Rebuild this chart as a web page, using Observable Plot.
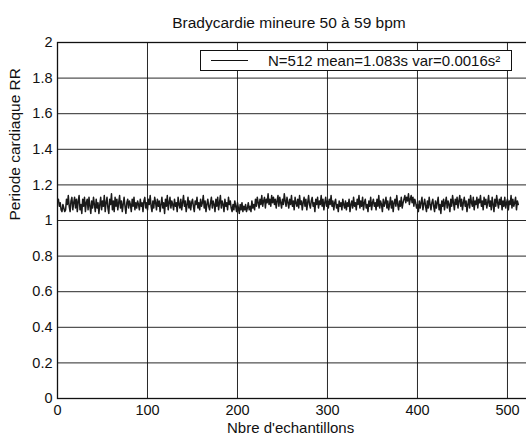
<!DOCTYPE html>
<html>
<head>
<meta charset="utf-8">
<script src="https://cdn.jsdelivr.net/npm/d3@7"></script>
<script src="https://cdn.jsdelivr.net/npm/@observablehq/plot@0.6"></script>
<style>
  body { margin: 0; background: #fff; font-family: "Liberation Sans", Arial, sans-serif; }
  #wrap { position: relative; width: 526px; height: 439px; overflow: hidden; }
  #title { position: absolute; left: 0; top: 14px; width: 526px; text-align: center; font-size: 15.5px; padding-left: 52px; box-sizing: border-box; color: #111; }
  #chart { position: absolute; left: 0; top: 20px; width: 540px; }
  #chart svg { max-width: none !important; }
  #legend { position: absolute; left: 200px; top: 50px; width: 312px; height: 21px; border: 1px solid #111; background: #fff; box-sizing: border-box; font-size: 15px; color: #111; }
  #legend .sample { position: absolute; left: 10px; top: 9px; width: 37px; border-top: 1px solid #111; }
  #legend .txt { position: absolute; left: 67px; top: 1px; white-space: nowrap; }
</style>
</head>
<body>
<div id="wrap">
  <div id="title"></div>
  <div id="chart"></div>
  <div id="legend"><div class="sample"></div><div class="txt"></div></div>
</div>
<script>
const title = "Bradycardie mineure 50 à 59 bpm";
const xLabel = "Nbre d'echantillons";
const yLabel = "Periode cardiaque RR";
const legendText = "N=512 mean=1.083s var=0.0016s²";
const xTicks = [0, 100, 200, 300, 400, 500];
const yTicks = [0, 0.2, 0.4, 0.6, 0.8, 1, 1.2, 1.4, 1.6, 1.8, 2];

// RR period values (s), 512 samples
const rr = [
1.12,1.08,1.10,1.06,1.05,1.09,1.07,1.05,1.06,1.12,1.09,1.14,1.08,1.05,1.11,1.13,
1.06,1.10,1.13,1.07,1.12,1.05,1.11,1.14,1.06,1.09,1.04,1.12,1.08,1.13,1.05,1.10,
1.12,1.06,1.13,1.08,1.04,1.11,1.07,1.13,1.09,1.05,1.12,1.07,1.10,1.04,1.09,1.13,
1.06,1.11,1.08,1.14,1.05,1.10,1.13,1.07,1.04,1.12,1.09,1.15,1.06,1.11,1.05,1.13,
1.08,1.12,1.06,1.10,1.14,1.07,1.11,1.05,1.09,1.13,1.08,1.04,1.10,1.12,1.07,1.11,
1.09,1.05,1.12,1.08,1.13,1.06,1.10,1.07,1.11,1.09,1.06,1.12,1.08,1.10,1.05,1.11,
1.13,1.07,1.10,1.06,1.12,1.09,1.14,1.08,1.05,1.11,1.07,1.13,1.10,1.06,1.12,1.08,
1.11,1.05,1.09,1.13,1.07,1.10,1.04,1.12,1.08,1.14,1.06,1.10,1.13,1.07,1.11,1.09,
1.06,1.12,1.08,1.10,1.05,1.13,1.09,1.07,1.12,1.06,1.10,1.14,1.08,1.11,1.05,1.09,
1.13,1.07,1.11,1.06,1.10,1.12,1.08,1.05,1.11,1.09,1.13,1.07,1.10,1.06,1.12,1.08,
1.10,1.14,1.07,1.11,1.05,1.09,1.12,1.08,1.06,1.10,1.13,1.07,1.11,1.09,1.05,1.12,
1.08,1.13,1.06,1.10,1.14,1.07,1.11,1.09,1.05,1.12,1.08,1.10,1.06,1.13,1.09,1.11,
1.07,1.05,1.09,1.06,1.11,1.08,1.05,1.10,1.07,1.04,1.09,1.06,1.10,1.05,1.08,1.06,
1.09,1.05,1.07,1.10,1.06,1.08,1.05,1.11,1.07,1.09,1.06,1.12,1.08,1.13,1.10,1.07,
1.12,1.09,1.14,1.08,1.11,1.13,1.07,1.12,1.10,1.15,1.09,1.12,1.08,1.14,1.10,1.13,
1.09,1.12,1.07,1.11,1.14,1.08,1.13,1.10,1.07,1.12,1.09,1.15,1.11,1.08,1.13,1.10,
1.07,1.12,1.09,1.14,1.08,1.11,1.06,1.13,1.10,1.08,1.12,1.07,1.14,1.09,1.11,1.06,
1.10,1.13,1.08,1.12,1.06,1.10,1.14,1.09,1.07,1.11,1.13,1.08,1.10,1.05,1.12,1.09,
1.13,1.07,1.11,1.09,1.14,1.08,1.12,1.06,1.10,1.13,1.08,1.11,1.07,1.12,1.09,1.14,
1.08,1.11,1.06,1.10,1.12,1.07,1.09,1.05,1.11,1.08,1.10,1.06,1.12,1.09,1.07,1.11,
1.06,1.10,1.08,1.12,1.05,1.09,1.11,1.07,1.13,1.08,1.10,1.06,1.12,1.09,1.14,1.07,
1.11,1.08,1.13,1.06,1.10,1.12,1.07,1.09,1.05,1.11,1.08,1.13,1.06,1.10,1.12,1.08,
1.10,1.06,1.12,1.08,1.14,1.07,1.11,1.09,1.05,1.12,1.08,1.10,1.13,1.07,1.11,1.06,
1.09,1.13,1.07,1.11,1.05,1.10,1.12,1.08,1.14,1.09,1.06,1.11,1.08,1.13,1.07,1.10,
1.12,1.14,1.10,1.13,1.11,1.15,1.09,1.12,1.14,1.10,1.13,1.08,1.12,1.10,1.07,1.09,
1.05,1.11,1.07,1.10,1.13,1.06,1.09,1.12,1.08,1.05,1.11,1.07,1.13,1.09,1.06,1.10,
1.12,1.08,1.05,1.11,1.07,1.10,1.13,1.06,1.09,1.04,1.11,1.08,1.12,1.06,1.10,1.13,
1.07,1.11,1.09,1.05,1.12,1.08,1.14,1.10,1.06,1.12,1.09,1.13,1.07,1.11,1.14,1.08,
1.12,1.06,1.10,1.13,1.08,1.11,1.05,1.09,1.12,1.07,1.14,1.10,1.08,1.13,1.06,1.11,
1.09,1.13,1.07,1.12,1.10,1.14,1.08,1.11,1.06,1.13,1.09,1.12,1.07,1.10,1.14,1.08,
1.11,1.06,1.13,1.09,1.05,1.12,1.08,1.14,1.10,1.07,1.12,1.09,1.13,1.06,1.11,1.08,
1.13,1.07,1.10,1.12,1.06,1.11,1.09,1.14,1.07,1.12,1.08,1.10,1.13,1.06,1.11,1.09
];
const samples = rr.map((v, i) => ({i: i + 1, v}));

document.getElementById("title").textContent = title;
document.querySelector("#legend .txt").textContent = legendText;

const fontSize = 14.5;
const plot = Plot.plot({
  width: 540,
  height: 419,
  marginTop: 22,
  marginBottom: 41,
  marginLeft: 57,
  marginRight: 0,
  style: {fontFamily: '"Liberation Sans", Arial, sans-serif', fontSize: fontSize + "px", color: "#111", background: "transparent", maxWidth: "none"},
  x: {domain: [0, 536.7]},
  y: {domain: [0, 2]},
  marks: [
    Plot.gridX(xTicks, {stroke: "#111", strokeOpacity: 0.9, strokeWidth: 1}),
    Plot.gridY(yTicks, {stroke: "#111", strokeOpacity: 0.9, strokeWidth: 1}),
    Plot.frame({stroke: "#111", strokeWidth: 1.3}),
    Plot.axisX({ticks: xTicks, tickSize: 0, tickPadding: 6, label: null, fontSize, tickFormat: d => String(d)}),
    Plot.axisY({ticks: yTicks, tickSize: 0, tickPadding: 5, label: null, fontSize, tickFormat: d => String(d)}),
    Plot.line(samples, {x: "i", y: "v", stroke: "#1a1a1a", strokeWidth: 1.5}),
    Plot.text([xLabel], {frameAnchor: "bottom", x: 259, dy: 34, text: d => d, fontSize: 15, fill: "#111"}),
    Plot.text([yLabel], {frameAnchor: "left", dx: -42, rotate: -90, text: d => d, fontSize: 15.5, fill: "#111"})
  ]
});
document.getElementById("chart").appendChild(plot);
</script>
</body>
</html>
